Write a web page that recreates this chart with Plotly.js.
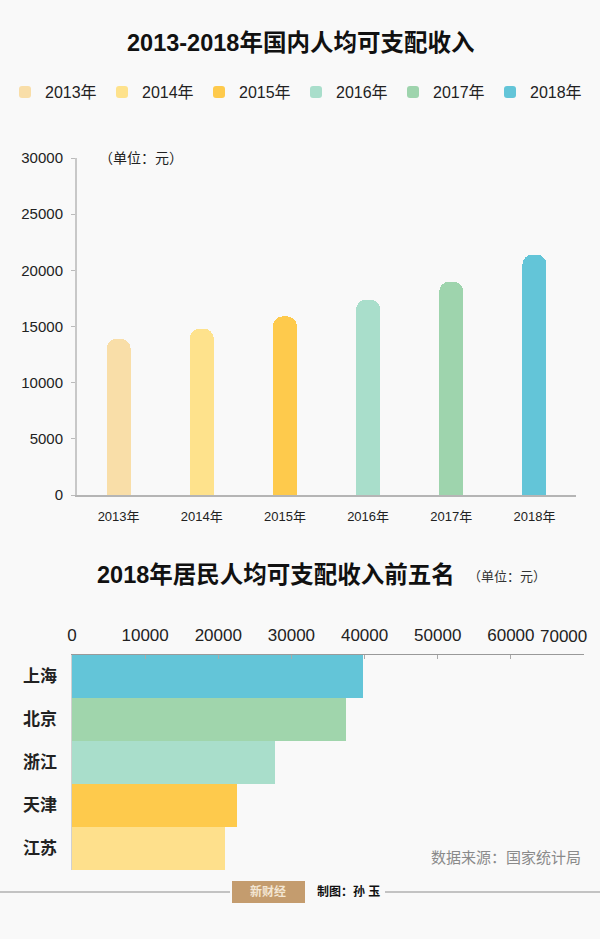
<!DOCTYPE html>
<html>
<head>
<meta charset="utf-8">
<script src="https://cdn.plot.ly/plotly-3.0.1.min.js"></script>
<style>html,body{margin:0;padding:0;background:#f9f9f9;}#chart{width:600px;height:939px;}</style>
</head>
<body>
<div id="chart"></div>
<script>
// Top chart data
var years = ['2013年', '2014年', '2015年', '2016年', '2017年', '2018年'];
var income = [13900, 14800, 15900, 17400, 19000, 21400];
var yearColors = ['#F9DEA8', '#FEE28C', '#FECA4C', '#A9DECB', '#9ED4AD', '#63C5D8'];

// Bottom chart data
var regions = ['上海', '北京', '浙江', '天津', '江苏'];
var regionIncome = [39800, 37500, 27800, 22600, 20900];
var regionColors = ['#63C5D8', '#A0D5AC', '#A9DECB', '#FECA4C', '#FEE08C'];

var yTicks = [0, 5000, 10000, 15000, 20000, 25000, 30000];
var xTicks2 = [0, 10000, 20000, 30000, 40000, 50000, 60000, 70000];

var FONT = "'Liberation Sans', 'Noto Sans CJK SC', sans-serif";
var W = 600, H = 939;
function px(x) { return x / W; }
function py(y) { return (H - y) / H; }

var traces = [];
for (var i = 0; i < years.length; i++) {
  traces.push({
    type: 'bar',
    name: years[i],
    x: [years[i]],
    y: [income[i]],
    xaxis: 'x', yaxis: 'y',
    width: 0.29,
    marker: {color: yearColors[i], cornerradius: 10},
    hoverinfo: 'x+y'
  });
}
traces.push({
  type: 'bar',
  orientation: 'h',
  x: regionIncome,
  y: regions,
  xaxis: 'x2', yaxis: 'y2',
  marker: {color: regionColors},
  showlegend: false,
  width: 1
});

// the last tick label of the bottom axis is drawn right-aligned to its tick so it stays in the page
var lastTick2 = xTicks2[xTicks2.length - 1];
var xTickText2 = xTicks2.map(function (v) { return v === lastTick2 ? '' : String(v); });

var layout = {
  width: W, height: H,
  margin: {l: 0, r: 0, t: 0, b: 0},
  paper_bgcolor: '#f9f9f9',
  plot_bgcolor: '#f9f9f9',
  font: {family: FONT, color: '#222', size: 13},
  barmode: 'overlay',
  bargap: 0,
  showlegend: true,
  legend: {
    orientation: 'h',
    x: px(5), xanchor: 'left',
    y: py(92), yanchor: 'middle',
    entrywidth: 52, entrywidthmode: 'pixels',
    font: {size: 16, color: '#222', family: FONT},
    itemwidth: 30,
    bgcolor: 'rgba(0,0,0,0)'
  },
  xaxis: {
    domain: [px(77), px(576)],
    anchor: 'y',
    type: 'category',
    showline: true, linecolor: '#b5b5b5', linewidth: 2,
    ticks: '', showgrid: false,
    tickfont: {size: 13, color: '#222'},
    ticklabelstandoff: 8,
    fixedrange: true
  },
  yaxis: {
    domain: [py(495), py(158)],
    anchor: 'x',
    range: [0, 30000],
    tickvals: yTicks,
    ticktext: yTicks.map(String),
    showline: true, linecolor: '#c8c8c8', linewidth: 2,
    ticks: 'outside', ticklen: 4, tickcolor: '#bbb',
    showgrid: false, zeroline: false,
    tickfont: {size: 15, color: '#222'},
    ticklabelstandoff: 5
  },
  xaxis2: {
    domain: [px(72), px(584)],
    anchor: 'y2',
    side: 'top',
    range: [0, 70000],
    tickvals: xTicks2,
    ticktext: xTickText2,
    showline: true, linecolor: '#9a9a9a', linewidth: 1.5,
    ticks: 'inside', ticklen: 4, tickcolor: '#aaa',
    showgrid: false, zeroline: false,
    tickfont: {size: 17, color: '#222'},
    ticklabelstandoff: 6
  },
  yaxis2: {
    domain: [py(870), py(655)],
    anchor: 'x2',
    type: 'category',
    autorange: 'reversed',
    showline: true, linecolor: '#d0d0d0', linewidth: 1.5,
    ticks: '', showgrid: false,
    tickfont: {size: 17, color: '#222', weight: 'bold'},
    ticklabelstandoff: 10
  },
  annotations: [
    {text: '2013-2018年国内人均可支配收入', xref: 'paper', yref: 'paper', x: 0.5, y: py(43),
     xanchor: 'center', yanchor: 'middle', showarrow: false,
     font: {size: 23.5, color: '#111', family: FONT, weight: 'bold'}},
    {text: '（单位：元）', xref: 'paper', yref: 'paper', x: px(97), y: py(158),
     xanchor: 'left', yanchor: 'middle', showarrow: false,
     font: {size: 14, color: '#222', family: FONT}},
    {text: '2018年居民人均可支配收入前五名', xref: 'paper', yref: 'paper', x: px(276), y: py(575),
     xanchor: 'center', yanchor: 'middle', showarrow: false,
     font: {size: 23.5, color: '#111', family: FONT, weight: 'bold'}},
    {text: '（单位：元）', xref: 'paper', yref: 'paper', x: px(466), y: py(576),
     xanchor: 'left', yanchor: 'middle', showarrow: false,
     font: {size: 13, color: '#333', family: FONT}},
    {text: String(lastTick2), xref: 'x2', yref: 'paper', x: lastTick2, y: py(636),
     xanchor: 'right', yanchor: 'middle', xshift: 5, showarrow: false,
     font: {size: 17, color: '#222', family: FONT}},
    {text: '数据来源：国家统计局', xref: 'paper', yref: 'paper', x: px(583), y: py(857),
     xanchor: 'right', yanchor: 'middle', showarrow: false,
     font: {size: 15, color: '#8a8a8a', family: FONT}},
    {text: '新财经', xref: 'paper', yref: 'paper', x: px(268), y: py(891),
     xanchor: 'center', yanchor: 'middle', showarrow: false,
     font: {size: 12, color: '#f3e6d3', family: FONT, weight: 'bold'}},
    {text: '制图：孙 玉', xref: 'paper', yref: 'paper', x: px(315), y: py(892),
     xanchor: 'left', yanchor: 'middle', showarrow: false,
     font: {size: 12, color: '#111', family: FONT, weight: 'bold'}}
  ],
  shapes: [
    {type: 'line', xref: 'paper', yref: 'paper', x0: 0, x1: px(230), y0: py(892), y1: py(892),
     line: {color: '#b0b0b0', width: 1.5}},
    {type: 'line', xref: 'paper', yref: 'paper', x0: px(385), x1: 1, y0: py(892), y1: py(892),
     line: {color: '#b0b0b0', width: 1.5}},
    {type: 'rect', xref: 'paper', yref: 'paper', x0: px(232), x1: px(305), y0: py(903), y1: py(881),
     fillcolor: '#C49C6E', line: {width: 0}}
  ]
};

Plotly.newPlot('chart', traces, layout, {displayModeBar: false, staticPlot: true});
</script>
</body>
</html>
